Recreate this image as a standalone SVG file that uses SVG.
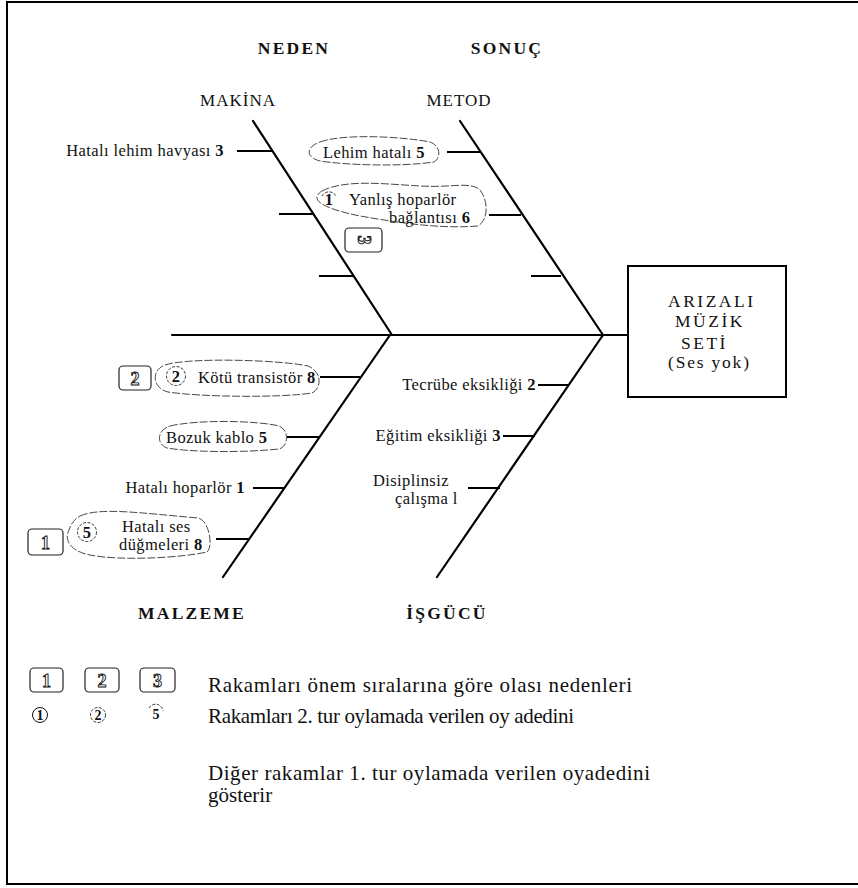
<svg xmlns="http://www.w3.org/2000/svg" width="858" height="888" viewBox="0 0 858 888">
<style>
text{font-family:"Liberation Serif","Times New Roman",serif;fill:#111;}
.t{font-size:16.5px;letter-spacing:0.4px;}
.h{font-size:17.5px;font-weight:bold;letter-spacing:2.2px;}
.c{font-size:17px;letter-spacing:1px;}
.bx{font-size:17.5px;letter-spacing:2.5px;}
.lg{font-size:21px;}
.b{font-weight:bold;}
.bone{stroke:#000;stroke-width:2.2;fill:none;stroke-linecap:round;}
.sub{stroke:#000;stroke-width:2;fill:none;}
.oval{stroke:#333;stroke-width:0.9;fill:none;stroke-dasharray:8 2;}
.circ{stroke:#222;stroke-width:0.9;fill:none;stroke-dasharray:3 1.5;}
.rbox{stroke:#222;stroke-width:1.2;fill:none;}
.hol{font-size:18px;font-weight:bold;fill:none;stroke:#111;stroke-width:0.9;}
</style>
<rect x="7" y="2" width="860" height="882" fill="#fff" stroke="#000" stroke-width="2"/>
<g id="connectors">
<line class="bone" x1="172" y1="335" x2="628" y2="335"/>
<line class="bone" x1="253" y1="121" x2="392" y2="335"/>
<line class="bone" x1="460" y1="121" x2="603" y2="335"/>
<line class="bone" x1="390" y1="335" x2="223" y2="577"/>
<line class="bone" x1="603" y1="335" x2="437" y2="577"/>
<line class="sub" x1="237" y1="151" x2="272" y2="151"/>
<line class="sub" x1="279" y1="214" x2="313" y2="214"/>
<line class="sub" x1="319" y1="276" x2="353" y2="276"/>
<line class="sub" x1="447" y1="152" x2="480" y2="152"/>
<line class="sub" x1="489" y1="215" x2="521" y2="215"/>
<line class="sub" x1="531" y1="276" x2="561" y2="276"/>
<line class="sub" x1="320" y1="377" x2="360" y2="377"/>
<line class="sub" x1="287" y1="437" x2="319" y2="437"/>
<line class="sub" x1="253" y1="488" x2="284" y2="488"/>
<line class="sub" x1="216" y1="539" x2="250" y2="539"/>
<line class="sub" x1="538" y1="385" x2="569" y2="385"/>
<line class="sub" x1="503" y1="436" x2="535" y2="436"/>
<line class="sub" x1="468" y1="488" x2="500" y2="488"/>
</g>
<g id="head-neden"><text class="h" x="294" y="54" text-anchor="middle">NEDEN</text></g>
<g id="head-sonuc"><text class="h" x="507" y="54" text-anchor="middle">SONUÇ</text></g>
<g id="cat-makina"><text class="c" x="238" y="106" text-anchor="middle">MAKİNA</text></g>
<g id="cat-metod"><text class="c" x="459" y="106" text-anchor="middle">METOD</text></g>
<g id="cat-malzeme"><text class="h" x="192" y="619" text-anchor="middle">MALZEME</text></g>
<g id="cat-isgucu"><text class="h" x="447" y="619" text-anchor="middle">İŞGÜCÜ</text></g>
<g id="effect">
<rect x="628" y="266" width="158" height="131" fill="#fff" stroke="#000" stroke-width="2"/>
<text class="bx" x="668" y="307">ARIZALI</text>
<text class="bx" x="675" y="327">MÜZİK</text>
<text class="bx" x="681" y="349">SETİ</text>
<text class="bx" x="668" y="368" style="letter-spacing:1.8px">(Ses yok)</text>
</g>
<g id="c-havya"><text class="t" x="224" y="156" text-anchor="end">Hatalı lehim havyası <tspan class="b">3</tspan></text></g>
<g id="c-lehim">
<path class="oval" d="M320,142 C345,133 405,137 430,142 C441,146 441,158 434,162 C400,167 345,165 320,161 C305,157 306,147 320,142 Z"/>
<text class="t" x="323" y="158">Lehim hatalı  <tspan class="b">5</tspan></text>
</g>
<g id="c-yanlis">
<path class="oval" d="M322,191 C345,179 385,184 420,186 C452,188 470,181 480,190 C488,200 489,219 478,226 C440,229 400,223 360,216 C330,210 306,201 322,191 Z"/>
<path class="circ" d="M322,196 A8,8 0 0 1 336,196"/>
<text class="t b" x="329" y="205" text-anchor="middle">1</text>
<text class="t" x="349" y="205">Yanlış hoparlör</text>
<text class="t" x="389" y="223">bağlantısı  <tspan class="b">6</tspan></text>
<rect class="rbox" x="345" y="228" width="37" height="24" rx="4"/>
<text class="hol" x="363.5" y="240" text-anchor="middle" dominant-baseline="central" transform="rotate(90 363.5 240)">3</text>
</g>
<g id="c-transistor">
<rect class="rbox" x="119" y="366" width="32" height="24" rx="4"/>
<text class="hol" x="135" y="385" text-anchor="middle">2</text>
<path class="oval" d="M165,365 C190,357 280,360 308,366 C322,372 322,388 312,393 C280,398 200,397 168,392 C152,388 151,370 165,365 Z"/>
<circle class="circ" cx="176" cy="376" r="9.5"/>
<text class="t b" x="176" y="382" text-anchor="middle">2</text>
<text class="t" x="198" y="383">Kötü transistör <tspan class="b">8</tspan></text>
</g>
<g id="c-kablo">
<path class="oval" d="M170,426 C200,419 260,421 279,426 C289,430 289,446 279,449 C240,453 190,452 167,448 C156,444 157,430 170,426 Z"/>
<text class="t" x="166" y="443">Bozuk kablo <tspan class="b">5</tspan></text>
</g>
<g id="c-hoparlor"><text class="t" x="245" y="493" text-anchor="end">Hatalı hoparlör  <tspan class="b">1</tspan></text></g>
<g id="c-dugme">
<rect class="rbox" x="28" y="529" width="35" height="26" rx="4"/>
<text class="hol" x="45.5" y="549" text-anchor="middle">1</text>
<path class="oval" d="M80,516 C100,507 140,513 198,518 C210,521 213,547 207,552 C180,558 120,561 90,555 C70,551 64,540 69,530 C71,523 75,519 80,516 Z"/>
<circle class="circ" cx="87" cy="532" r="9.5"/>
<text class="t b" x="87" y="538" text-anchor="middle">5</text>
<text class="t" x="122" y="532">Hatalı ses</text>
<text class="t" x="119" y="550">düğmeleri  <tspan class="b">8</tspan></text>
</g>
<g id="c-tecrube"><text class="t" x="536" y="390" text-anchor="end">Tecrübe eksikliği <tspan class="b">2</tspan></text></g>
<g id="c-egitim"><text class="t" x="501" y="441" text-anchor="end">Eğitim eksikliği <tspan class="b">3</tspan></text></g>
<g id="c-disiplin">
<text class="t" x="373" y="486">Disiplinsiz</text>
<text class="t" x="395" y="504">çalışma l</text>
</g>
<g id="legend">
<rect class="rbox" x="30" y="668" width="33" height="24" rx="4"/>
<text class="hol" x="46.5" y="687" text-anchor="middle">1</text>
<rect class="rbox" x="85" y="668" width="34" height="24" rx="4"/>
<text class="hol" x="102" y="687" text-anchor="middle">2</text>
<rect class="rbox" x="140" y="668" width="35" height="24" rx="4"/>
<text class="hol" x="157.5" y="687" text-anchor="middle">3</text>
<text class="lg" x="208" y="692" textLength="424">Rakamları önem sıralarına göre olası nedenleri</text>
<circle cx="40" cy="715" r="7.5" fill="none" stroke="#111" stroke-width="1"/>
<text x="40" y="720" font-size="14" font-weight="bold" text-anchor="middle">1</text>
<circle class="circ" cx="98" cy="715" r="7.5"/>
<text x="98" y="720" font-size="14" font-weight="bold" text-anchor="middle">2</text>
<path class="circ" d="M149,708 A7.5,7.5 0 0 1 163,711"/>
<text x="156" y="719" font-size="14" font-weight="bold" text-anchor="middle">5</text>
<text class="lg" x="208" y="723" textLength="366">Rakamları 2. tur oylamada verilen oy  adedini</text>
<text class="lg" x="208" y="780" textLength="442">Diğer rakamlar 1. tur oylamada verilen oyadedini</text>
<text class="lg" x="208" y="802">gösterir</text>
</g>
</svg>
